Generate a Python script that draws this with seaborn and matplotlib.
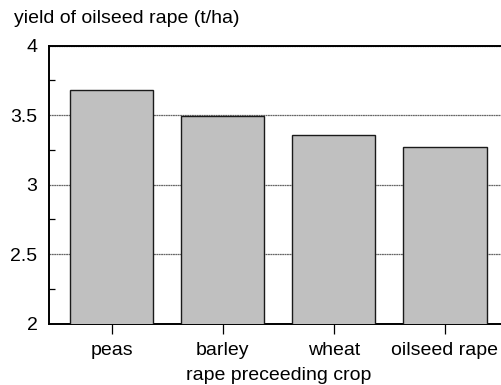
import matplotlib
matplotlib.use("Agg")
import matplotlib.pyplot as plt
from matplotlib.ticker import MultipleLocator
import pandas as pd
import seaborn as sns

crops = ["peas", "barley", "wheat", "oilseed rape"]
yields = [3.68, 3.49, 3.36, 3.27]

sns.set_theme(style="white")
plt.rcParams["font.family"] = ["Liberation Sans", "DejaVu Sans"]

df = pd.DataFrame({"crop": crops, "yield": yields})

fig = plt.figure(figsize=(5.01, 3.85), dpi=100)
ax = fig.add_axes([0.0972, 0.1592, 0.9164, 0.7226])

sns.barplot(data=df, x="crop", y="yield", color="#c0c0c0", saturation=1,
            edgecolor="#1a1a1a", linewidth=1.0, width=0.75, ax=ax, zorder=3)

ax.set_ylim(2, 4)
ax.set_xlim(-0.566, 3.566)
ax.yaxis.set_minor_locator(MultipleLocator(0.25))
ax.set_yticks([2, 2.5, 3, 3.5, 4])
ax.set_yticklabels(["2", "2.5", "3", "3.5", "4"])

ax.grid(axis="y", which="major", color="#666666", linewidth=0.9, linestyle=(0, (1.5, 0.4)), zorder=0)
ax.set_axisbelow(True)

for side in ["left", "bottom", "top"]:
    ax.spines[side].set_visible(True)
    ax.spines[side].set_color("black")
    ax.spines[side].set_linewidth(1.4)
ax.spines["right"].set_visible(False)

fs = 14
ax.tick_params(axis="y", which="major", length=0, pad=8, labelsize=fs, colors="black")
ax.tick_params(axis="y", which="minor", direction="in", length=4, width=0.9, color="black", left=True)
ax.tick_params(axis="x", which="major", direction="out", length=7, width=0.9, color="black",
               bottom=True, pad=6, labelsize=fs, labelcolor="black")

ax.set_xlabel("rape preceeding crop", fontsize=fs, labelpad=6, color="black")
ax.set_ylabel("")
fig.text(0.028, 0.951, "yield of oilseed rape (t/ha)", fontsize=fs, va="center", ha="left", color="black")

fig.savefig("out.png", dpi=100)
